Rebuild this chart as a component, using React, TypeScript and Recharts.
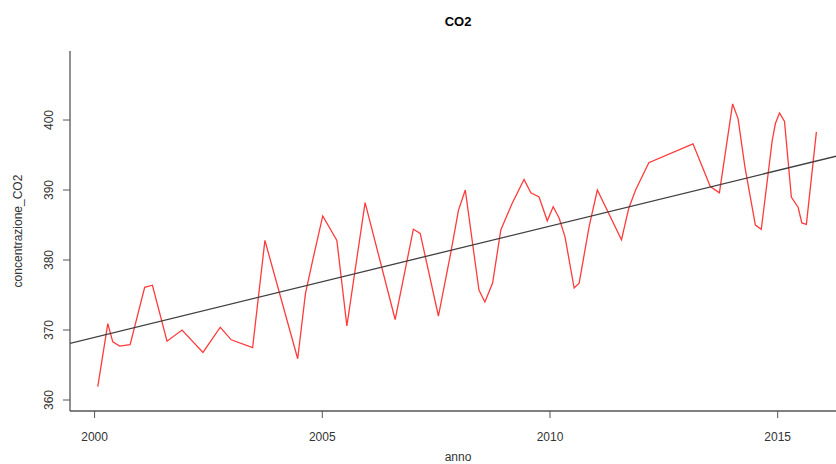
import React from "react";
import { LineChart, Line, XAxis, YAxis } from "recharts";

const years = [
  2000.07, 2000.29, 2000.40, 2000.55, 2000.78, 2001.10, 2001.27, 2001.59, 2001.92, 2002.38,
  2002.76, 2003.00, 2003.47, 2003.74, 2004.46, 2004.63, 2004.79, 2005.01, 2005.32, 2005.54,
  2005.94, 2006.60, 2007.00, 2007.15, 2007.55, 2007.82, 2007.99, 2008.14, 2008.44, 2008.57,
  2008.74, 2008.92, 2009.17, 2009.43, 2009.58, 2009.76, 2009.94, 2010.07, 2010.20, 2010.33,
  2010.53, 2010.64, 2010.86, 2011.04, 2011.57, 2011.73, 2011.88, 2012.17, 2013.14, 2013.52,
  2013.72, 2014.01, 2014.13, 2014.28, 2014.51, 2014.64, 2014.88, 2014.95, 2015.04, 2015.15,
  2015.30, 2015.45, 2015.53, 2015.63, 2015.85,
];

const co2 = [
  361.9, 370.9, 368.3, 367.7, 367.9, 376.1, 376.4, 368.4, 370.0, 366.8,
  370.4, 368.6, 367.5, 382.8, 365.9, 375.2, 380.0, 386.3, 382.8, 370.6,
  388.2, 371.5, 384.4, 383.8, 372.0, 381.0, 387.1, 390.0, 375.7, 374.0,
  376.7, 384.3, 388.1, 391.5, 389.6, 389.0, 385.6, 387.6, 386.0, 383.3,
  376.0, 376.7, 384.8, 390.0, 382.9, 387.4, 390.0, 393.9, 396.6, 390.5,
  389.6, 402.3, 400.2, 393.3, 385.0, 384.4, 397.1, 399.5, 401.0, 399.8,
  389.0, 387.5, 385.3, 385.1, 398.3,
];

const xTicks = [2000, 2005, 2010, 2015];
const yTicks = [360, 370, 380, 390, 400];

const xDomain: [number, number] = [1999.46, 2016.5];
const yDomain: [number, number] = [358.43, 409.86];

// regression line (intercept at 2000, slope per year)
const regIntercept2000 = 368.96;
const regSlope = 1.589;

const data = years.map((y, i) => ({ year: y, co2: co2[i] }));
const regData = xDomain.map((x) => ({
  year: x,
  fit: regIntercept2000 + regSlope * (x - 2000),
}));

const FONT = "'Liberation Sans', Arial, Helvetica, sans-serif";
const AXIS = "#555555";
const TXT = "#333333";

const YTick = (props: any) => {
  const { x, y, payload } = props;
  const xx = x - 8;
  return (
    <text
      x={xx}
      y={y}
      transform={`rotate(-90 ${xx} ${y})`}
      textAnchor="middle"
      fill={TXT}
      fontSize={12}
      fontFamily={FONT}
    >
      {payload.value}
    </text>
  );
};

const XTick = (props: any) => {
  const { x, y, payload } = props;
  return (
    <text x={x} y={y + 21} textAnchor="middle" fill={TXT} fontSize={12} fontFamily={FONT}>
      {payload.value}
    </text>
  );
};

export default function App() {
  return (
    <div
      style={{
        position: "fixed",
        left: 0,
        top: 0,
        width: 836,
        height: 464,
        overflow: "hidden",
        background: "#ffffff",
      }}
    >
      <LineChart
        width={860}
        height={464}
        data={data}
        margin={{ top: 51, right: 14, left: 0, bottom: 0 }}
      >
        <XAxis
          dataKey="year"
          type="number"
          domain={xDomain}
          ticks={xTicks}
          allowDataOverflow
          height={53}
          tickSize={7}
          tickMargin={2}
          stroke={AXIS}
          tick={<XTick />}
          tickLine={{ stroke: AXIS }}
          axisLine={{ stroke: AXIS, strokeWidth: 1.3 }}
        />
        <XAxis
          xAxisId="top"
          orientation="top"
          dataKey="year"
          type="number"
          domain={xDomain}
          height={0}
          tick={false}
          tickLine={false}
          axisLine={{ stroke: AXIS, strokeWidth: 1.3 }}
        />
        <YAxis
          type="number"
          domain={yDomain}
          ticks={yTicks}
          allowDataOverflow
          width={70}
          tickSize={7}
          tickMargin={2}
          stroke={AXIS}
          tick={<YTick />}
          tickLine={{ stroke: AXIS }}
          axisLine={{ stroke: AXIS, strokeWidth: 1.3 }}
        />
        <Line
          dataKey="co2"
          stroke="#ff3b3b"
          strokeWidth={1.3}
          dot={false}
          isAnimationActive={false}
          type="linear"
        />
        <Line
          data={regData}
          dataKey="fit"
          stroke="#404040"
          strokeWidth={1.3}
          dot={false}
          isAnimationActive={false}
          type="linear"
        />
      </LineChart>
      <div
        style={{
          position: "absolute",
          left: 0,
          width: 916,
          top: 14,
          textAlign: "center",
          fontFamily: FONT,
          fontWeight: "bold",
          fontSize: 13,
          color: "#000",
          lineHeight: "16px",
        }}
      >
        CO2
      </div>
      <div
        style={{
          position: "absolute",
          left: 0,
          width: 916,
          top: 450,
          textAlign: "center",
          fontFamily: FONT,
          fontSize: 12,
          color: TXT,
          lineHeight: "14px",
        }}
      >
        anno
      </div>
      <div
        style={{
          position: "absolute",
          left: 18 - 100,
          top: 231 - 8,
          width: 200,
          height: 16,
          lineHeight: "16px",
          textAlign: "center",
          transform: "rotate(-90deg)",
          fontFamily: FONT,
          fontSize: 12,
          color: TXT,
        }}
      >
        concentrazione_CO2
      </div>
    </div>
  );
}
